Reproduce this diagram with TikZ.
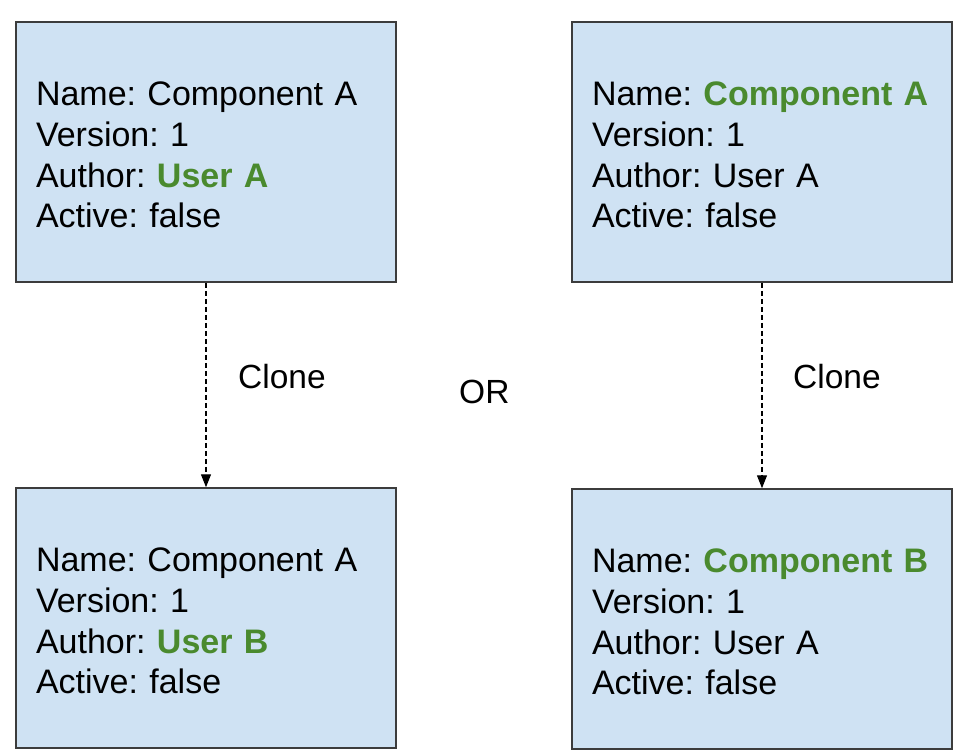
\documentclass[tikz,border=0pt]{standalone}
\usepackage{fontspec}
\setmainfont{Liberation Sans}
\usetikzlibrary{arrows.meta}
\definecolor{boxfill}{HTML}{CFE2F3}
\definecolor{boxline}{HTML}{3C3C3C}
\definecolor{hlgreen}{HTML}{4A8A2E}
\newcommand{\hl}[1]{\textcolor{hlgreen}{\bfseries #1}}
\begin{document}
\frenchspacing
\begin{tikzpicture}[x=1pt,y=-1pt,
  compbox/.style={draw=boxline, line width=1.5pt, fill=boxfill, minimum width=380pt, minimum height=260pt},
  boxtext/.style={text width=340pt, align=left, inner sep=0pt,
    font=\fontsize{34}{40.7}\selectfont},
  plain/.style={font=\fontsize{33.5}{40}\selectfont, inner sep=0pt, anchor=base west},
  clonearrow/.style={draw=black, line width=1.3pt, dash pattern=on 5pt off 3pt,
    -{Triangle[length=13pt,width=10pt]}}
]
\useasboundingbox (0,0) rectangle (964,755);
\node[compbox] (tl) at (206,152) {};
\node[compbox] (tr) at (762,152) {};
\node[compbox] (bl) at (206,618) {};
\node[compbox] (br) at (762,619) {};
\node[boxtext] (tlt) at ([yshift=-3pt]tl.center) {Name: Component A\\Version: 1\\Author: \hl{User A}\\Active: false};
\node[boxtext] (trt) at ([yshift=-3pt]tr.center) {Name: \hl{Component A}\\Version: 1\\Author: User A\\Active: false};
\node[boxtext] (blt) at ([yshift=-3pt]bl.center) {Name: Component A\\Version: 1\\Author: \hl{User B}\\Active: false};
\node[boxtext] (brt) at ([yshift=-3pt]br.center) {Name: \hl{Component B}\\Version: 1\\Author: User A\\Active: false};
\draw[clonearrow] (tl.south) -- (bl.north);
\draw[clonearrow] (tr.south) -- (br.north);
\node[plain] (c1) at (238,388) {Clone};
\node[plain] (c2) at (793,388) {Clone};
\node[plain] (or) at (459,403) {OR};
\end{tikzpicture}
\end{document}
